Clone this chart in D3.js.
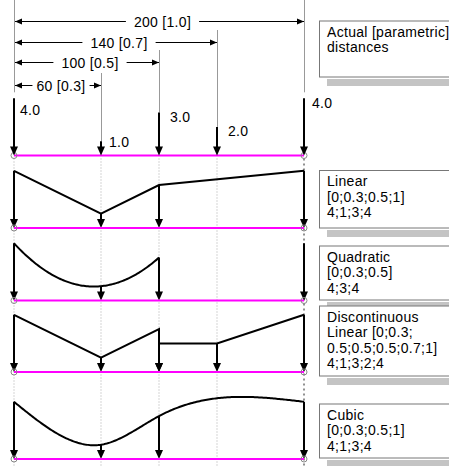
<!DOCTYPE html>
<html>
<head>
<meta charset="utf-8">
<script src="https://cdn.jsdelivr.net/npm/d3@7"></script>
<style>
  body { margin: 0; background: #fff; }
  svg { display: block; font-family: "Liberation Sans", Arial, sans-serif; font-size: 14px; }
</style>
</head>
<body>
<div class="chart"></div>
<script>
// load positions: actual distance and parametric position, plus load values
var distances = [0, 60, 100, 140, 200];
var params = [0, 0.3, 0.5, 0.7, 1.0];
var actualLoads = [4, 1, 3, 2, 4];

var linearT = [0, 0.3, 0.5, 1];
var linearV = [4, 1, 3, 4];

var quadT = [0, 0.3, 0.5];
var quadV = [4, 1, 3];
var quadEndT = [1];
var quadEndV = [4];

var discT = [0, 0.3, 0.5, 0.5, 0.7, 1];
var discV = [4, 1, 3, 2, 2, 4];

var cubicT = [0, 0.3, 0.5, 1];
var cubicV = [4, 1, 3, 4];

var legendLines = [
  ["Actual [parametric]", "distances"],
  ["Linear", "[0;0.3;0.5;1]", "4;1;3;4"],
  ["Quadratic", "[0;0.3;0.5]", "4;3;4"],
  ["Discontinuous", "Linear [0;0.3;", "0.5;0.5;0.5;0.7;1]", "4;1;3;2;4"],
  ["Cubic", "[0;0.3;0.5;1]", "4;1;3;4"]
];

// layout
var svgWidth = 449, svgHeight = 466;
var topBase = 155.5;
var panelBase = [228, 300.5, 372, 459];
var dimRowY = [null, 85, 62, 42, 21];         // y of the dimension line per distance
var labelOff = [[6, 17], [8, 6], [11, 9], [11, 9], [8, 10]];
var legendBox = [[21, 77], [170.5, 228], [246, 300], [306, 376], [404, 458]];
var unit = 14.3;

var svg = d3.select(".chart").append("svg")
  .attr("width", svgWidth)
  .attr("height", svgHeight);

var x = d3.scaleLinear().domain([0, 200]).range([14, 304]);
var tx = d3.scaleLinear().domain([0, 1]).range([14, 304]);

function yScale(base) {
  return d3.scaleLinear().domain([0, 4]).range([base, base - 4 * unit]);
}

//downward load arrow with filled head, tip on the base line
function arrow(g, xp, yTop, yBase) {
  g.append("line")
    .attr("x1", xp).attr("x2", xp)
    .attr("y1", yTop).attr("y2", yBase - 7)
    .attr("stroke", "#000").attr("stroke-width", 2);
  g.append("path")
    .attr("d", `M${xp - 4},${yBase - 9}L${xp + 4},${yBase - 9}L${xp},${yBase}Z`)
    .attr("fill", "#000");
}

function baseLine(g, base) {
  g.append("line")
    .attr("x1", tx(0)).attr("x2", tx(1))
    .attr("y1", base).attr("y2", base)
    .attr("stroke", "#ff00ff").attr("stroke-width", 2);
  g.selectAll(null).data([0, 1]).enter().append("circle")
    .attr("cx", d => tx(d)).attr("cy", base).attr("r", 3)
    .attr("fill", "none").attr("stroke", "#888").attr("stroke-width", 1);
}

function lagrange(ts, vs) {
  return function (t) {
    var s = 0;
    for (var i = 0; i < ts.length; i++) {
      var p = vs[i];
      for (var j = 0; j < ts.length; j++) if (j !== i) p *= (t - ts[j]) / (ts[i] - ts[j]);
      s += p;
    }
    return s;
  };
}

function naturalSpline(ts, vs) {
  var n = ts.length, h = [], m = new Array(n).fill(0);
  for (var i = 0; i < n - 1; i++) h.push(ts[i + 1] - ts[i]);
  var a = [], b = [], c = [], r = [];
  for (var i = 1; i < n - 1; i++) {
    a.push(h[i - 1]); b.push(2 * (h[i - 1] + h[i])); c.push(h[i]);
    r.push(6 * ((vs[i + 1] - vs[i]) / h[i] - (vs[i] - vs[i - 1]) / h[i - 1]));
  }
  var k = r.length;
  for (var i = 1; i < k; i++) {
    var w = a[i] / b[i - 1];
    b[i] -= w * c[i - 1]; r[i] -= w * r[i - 1];
  }
  for (var i = k - 1; i >= 0; i--) m[i + 1] = (r[i] - (i < k - 1 ? c[i] * m[i + 2] : 0)) / b[i];
  return function (t) {
    var i = Math.min(n - 2, Math.max(0, d3.bisectRight(ts, t) - 1));
    var hi = h[i], u = ts[i + 1] - t, w = t - ts[i];
    return m[i] * u * u * u / (6 * hi) + m[i + 1] * w * w * w / (6 * hi) +
      (vs[i] / hi - m[i] * hi / 6) * u + (vs[i + 1] / hi - m[i + 1] * hi / 6) * w;
  };
}

//dotted guides down through the panels
var guides = svg.append("g");
guides.selectAll(null).data(params).enter().append("line")
  .attr("x1", d => tx(d)).attr("x2", d => tx(d))
  .attr("y1", topBase + 3).attr("y2", svgHeight)
  .attr("stroke", (d, i) => i === params.length - 1 ? "#222" : "#aaa")
  .attr("stroke-width", 1)
  .attr("stroke-dasharray", (d, i) => i === params.length - 1 ? "2,3" : "1,2");

//top section: dimension lines
var dims = svg.append("g");
distances.forEach(function (d, i) {
  var xp = x(d);
  var top = (i === 0 || i === distances.length - 1) ? 0 : dimRowY[i] - 12;
  var arrowTop = topBase - actualLoads[i] * unit;
  var bottom = (i === 0 || i === distances.length - 1) ? arrowTop - 6 : arrowTop;
  dims.append("line")
    .attr("x1", xp + 0.5).attr("x2", xp + 0.5)
    .attr("y1", top).attr("y2", bottom)
    .attr("stroke", "#999").attr("stroke-width", 1);
});

distances.forEach(function (d, i) {
  if (i === 0) return;
  var y = dimRowY[i] + 0.5, x0 = x(0) + 1, x1 = x(d);
  dims.append("line")
    .attr("x1", x0).attr("x2", x1)
    .attr("y1", y).attr("y2", y)
    .attr("stroke", "#000").attr("stroke-width", 1);
  dims.append("path").attr("d", `M${x0},${y}L${x0 + 7},${y - 3}L${x0 + 7},${y + 3}Z`).attr("fill", "#000");
  dims.append("path").attr("d", `M${x1},${y}L${x1 - 7},${y - 3}L${x1 - 7},${y + 3}Z`).attr("fill", "#000");
  var cx = (x0 + x1) / 2 + 3;
  var bg = dims.append("rect").attr("fill", "#fff");
  var t = dims.append("text")
    .attr("x", cx).attr("y", y + 5)
    .attr("text-anchor", "middle")
    .attr("letter-spacing", "0.3px")
    .text(`${d} [${params[i].toFixed(1)}]`);
  var bb = t.node().getBBox();
  var pad = i === 1 ? 4 : 8;
  bg.attr("x", bb.x - pad).attr("y", y - 2).attr("width", bb.width + 2 * pad).attr("height", 4);
});

//top section: actual loads
var topG = svg.append("g");
baseLine(topG, topBase);
distances.forEach(function (d, i) {
  var yTop = topBase - actualLoads[i] * unit;
  arrow(topG, x(d), yTop, topBase);
  topG.append("text")
    .attr("x", x(d) + labelOff[i][0])
    .attr("y", yTop + labelOff[i][1])
    .attr("letter-spacing", "0.3px")
    .text(actualLoads[i].toFixed(1));
});

var line = d3.line();

//linear panel
var g1 = svg.append("g"), y1 = yScale(panelBase[0]);
g1.append("path")
  .attr("d", line(linearT.map((t, i) => [tx(t), y1(linearV[i])])))
  .attr("fill", "none").attr("stroke", "#000").attr("stroke-width", 2);
linearT.forEach((t, i) => arrow(g1, tx(t), y1(linearV[i]), panelBase[0]));
baseLine(g1, panelBase[0]);

//quadratic panel
var g2 = svg.append("g"), y2 = yScale(panelBase[1]);
var quad = lagrange(quadT, quadV);
var quadSamples = d3.range(0, 101).map(k => quadT[0] + (quadT[quadT.length - 1] - quadT[0]) * k / 100);
g2.append("path")
  .attr("d", line(quadSamples.map(t => [tx(t), y2(quad(t))])))
  .attr("fill", "none").attr("stroke", "#000").attr("stroke-width", 2);
quadT.forEach((t, i) => arrow(g2, tx(t), y2(quadV[i]), panelBase[1]));
quadEndT.forEach((t, i) => arrow(g2, tx(t), y2(quadEndV[i]), panelBase[1]));
baseLine(g2, panelBase[1]);

//discontinuous linear panel
var g3 = svg.append("g"), y3 = yScale(panelBase[2]);
g3.append("path")
  .attr("d", line(discT.map((t, i) => [tx(t), y3(discV[i])])))
  .attr("fill", "none").attr("stroke", "#000").attr("stroke-width", 2);
discT.forEach((t, i) => arrow(g3, tx(t), y3(discV[i]), panelBase[2]));
baseLine(g3, panelBase[2]);

//cubic panel
var g4 = svg.append("g"), y4 = yScale(panelBase[3]);
var cub = naturalSpline(cubicT, cubicV);
var cubSamples = d3.range(0, 201).map(k => k / 200);
g4.append("path")
  .attr("d", line(cubSamples.map(t => [tx(t), y4(cub(t))])))
  .attr("fill", "none").attr("stroke", "#000").attr("stroke-width", 2);
cubicT.forEach((t, i) => arrow(g4, tx(t), y4(cubicV[i]), panelBase[3]));
baseLine(g4, panelBase[3]);

//legend boxes with drop shadow
var legend = svg.append("g");
legendLines.forEach(function (lines, i) {
  var top = legendBox[i][0], bottom = legendBox[i][1];
  legend.append("rect")
    .attr("x", 327).attr("y", bottom + 2)
    .attr("width", 140).attr("height", 7)
    .attr("fill", "#c4c4c4");
  legend.append("rect")
    .attr("x", 319.5).attr("y", top)
    .attr("width", 140).attr("height", bottom - top)
    .attr("fill", "#fff").attr("stroke", "#777").attr("stroke-width", 1);
  legend.selectAll(null).data(lines).enter().append("text")
    .attr("x", 327)
    .attr("y", (d, j) => top + 15.5 + j * 15.5)
    .attr("letter-spacing", "0.3px")
    .attr("fill", "#000")
    .text(d => d);
});
</script>
</body>
</html>
